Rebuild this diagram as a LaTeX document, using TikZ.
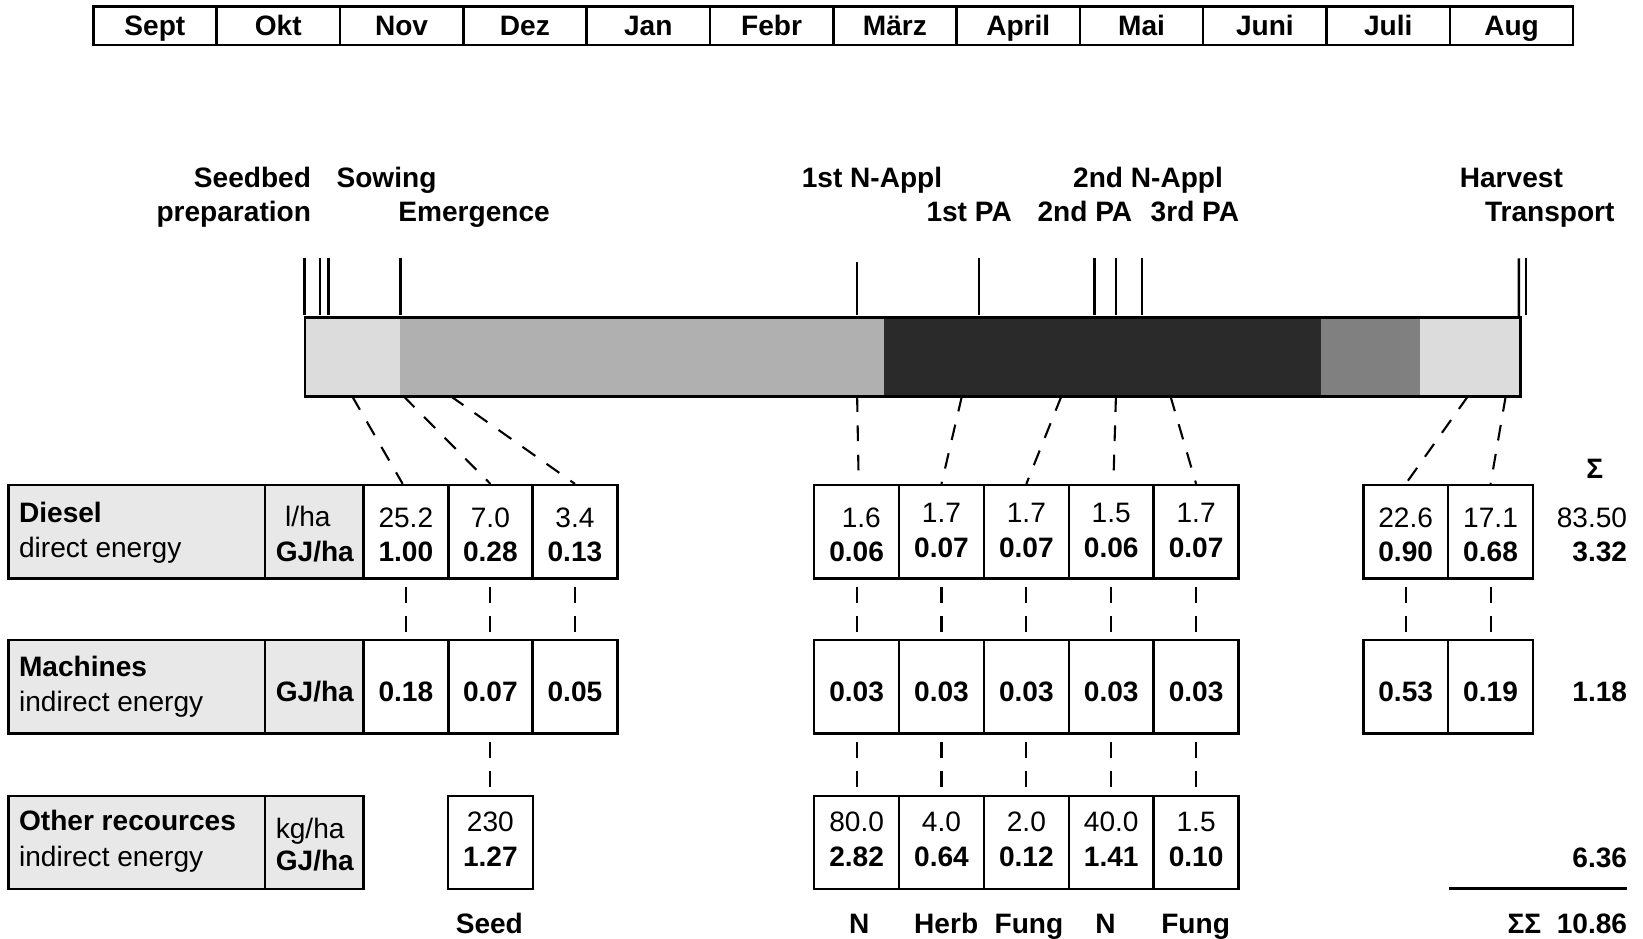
\documentclass[tikz,border=0pt]{standalone}
\usepackage{fontspec}
\setmainfont{Liberation Sans}
\definecolor{labgray}{HTML}{E8E8E8}
\definecolor{barlight}{HTML}{DCDCDC}
\definecolor{barmid}{HTML}{B0B0B0}
\definecolor{bardark}{HTML}{2A2A2A}
\definecolor{bargrey}{HTML}{808080}
\newcommand\valcell[6]{% name, x, y, top, bottom, variant shift
  \node[cellbox] (#1) at (#2,#3) {};
  \node[txt, anchor=base] at ([yshift=#6pt+4.5pt]#1.center) {#4};
  \node[btxt, anchor=base] at ([yshift=#6pt-28.5pt]#1.center) {#5};}
\newcommand\onecell[3]{% name, x, value
  \node[cellbox] (#1) at (#2,655.5) {};
  \node[btxt, anchor=base] at ([yshift=-13.5pt]#1.center) {#3};}
\begin{document}
\begin{tikzpicture}[x=1pt,y=-1pt,
  every node/.style={inner sep=0pt},
  txt/.style={font=\fontsize{26.8}{32}\selectfont},
  btxt/.style={font=\fontsize{26.8}{32}\selectfont\bfseries},
  monthbox/.style={draw, line width=2.4pt, minimum width=117.7pt, minimum height=37pt,
    font=\fontsize{26.8}{32}\selectfont\bfseries, text height=19pt, text depth=0pt},
  cellbox/.style={draw, line width=2.4pt, minimum width=81pt, minimum height=89pt},
  labbox/.style={draw, line width=2.4pt, fill=labgray, minimum height=89pt},
  tick/.style={line width=2.4pt},
  dashline/.style={line width=2pt, dash pattern=on 15pt off 13pt},
]
\useasboundingbox (0,0) rectangle (1568,896);
% months
\foreach \m [count=\i from 0] in {Sept,Okt,Nov,Dez,Jan,Febr,März,April,Mai,Juni,Juli,Aug}
  \node[monthbox] (m\i) at ({89+117.7*\i+58.85},24.5) {\m};
% event labels
\node[btxt, anchor=base east] (seedbed) at (297,179) {Seedbed};
\node[btxt, anchor=base east] (prep) at (297,211) {preparation};
\node[btxt, anchor=base west] (sowing) at (321,179) {Sowing};
\node[btxt, anchor=base west] (emerg) at (380,211) {Emergence};
\node[btxt, anchor=base west] (n1) at (765,179) {1st N-Appl};
\node[btxt, anchor=base west] (pa1) at (884,211) {1st PA};
\node[btxt, anchor=base west] (n2) at (1024,179) {2nd N-Appl};
\node[btxt, anchor=base west] (pa2) at (990,211) {2nd PA};
\node[btxt, anchor=base west] (pa3) at (1098,211) {3rd PA};
\node[btxt, anchor=base west] (harv) at (1393,179) {Harvest};
\node[btxt, anchor=base west] (transp) at (1417,211) {Transport};
% ticks
\foreach \x in {290.5,305.5,313.5,382,934.5,1044.5,1065,1090,1456.5}
  \draw[tick] (\x,246.5) -- (\x,301);
\draw[tick] (818,250) -- (818,301);
\draw[tick] (1449.5,246.5) -- (1449.5,301) -- (1448,312);
% bar
\fill[barlight] (290,302) rectangle (382,377);
\fill[barmid] (382,302) rectangle (844,377);
\fill[bardark] (844,302) rectangle (1261,377);
\fill[bargrey] (1261,302) rectangle (1355,377);
\fill[barlight] (1355,302) rectangle (1450,377);
\node[draw, line width=2.4pt, minimum width=1160pt, minimum height=75pt, anchor=north west] (bar) at (290,302) {};
% row 1 : Diesel
\node[labbox, minimum width=245pt] (dlab) at (130.5,507.5) {};
\node[btxt, anchor=base west] at (18,499) {Diesel};
\node[txt, anchor=base west] at (18,532) {direct energy};
\node[labbox, minimum width=94pt] (dunit) at (300,507.5) {};
\node[txt, anchor=base west] at (272,502) {l/ha};
\node[btxt, anchor=base west] at (263,536) {GJ/ha};
\valcell{d1}{387.3}{507.5}{25.2}{1.00}{0}
\valcell{d2}{468}{507.5}{7.0}{0.28}{0}
\valcell{d3}{548.7}{507.5}{3.4}{0.13}{0}
\valcell{d4}{817.5}{507.5}{\hspace*{9pt}1.6}{0.06}{0}
\valcell{d5}{898.5}{507.5}{1.7}{0.07}{4}
\valcell{d6}{979.5}{507.5}{1.7}{0.07}{4}
\valcell{d7}{1060.5}{507.5}{1.5}{0.06}{4}
\valcell{d8}{1141.5}{507.5}{1.7}{0.07}{4}
\valcell{d9}{1341.5}{507.5}{22.6}{0.90}{0}
\valcell{d10}{1422.5}{507.5}{17.1}{0.68}{0}
% row 2 : Machines
\node[labbox, minimum width=245pt] (mlab) at (130.5,655.5) {};
\node[btxt, anchor=base west] at (18,646) {Machines};
\node[txt, anchor=base west] at (18,679) {indirect energy};
\node[labbox, minimum width=94pt] (munit) at (300,655.5) {};
\node[btxt, anchor=base west] at (263,669) {GJ/ha};
\onecell{e1}{387.3}{0.18}
\onecell{e2}{468}{0.07}
\onecell{e3}{548.7}{0.05}
\onecell{e4}{817.5}{0.03}
\onecell{e5}{898.5}{0.03}
\onecell{e6}{979.5}{0.03}
\onecell{e7}{1060.5}{0.03}
\onecell{e8}{1141.5}{0.03}
\onecell{e9}{1341.5}{0.53}
\onecell{e10}{1422.5}{0.19}
% row 3 : Other recources
\node[labbox, minimum width=245pt] (olab) at (130.5,804) {};
\node[btxt, anchor=base west] at (18,793) {Other recources};
\node[txt, anchor=base west] at (18,827) {indirect energy};
\node[labbox, minimum width=94pt] (ounit) at (300,804) {};
\node[txt, anchor=base west] at (263,800) {kg/ha};
\node[btxt, anchor=base west] at (263,831) {GJ/ha};
\valcell{f2}{468}{804}{230}{1.27}{5.5}
\valcell{f4}{817.5}{804}{80.0}{2.82}{5.5}
\valcell{f5}{898.5}{804}{4.0}{0.64}{5.5}
\valcell{f6}{979.5}{804}{2.0}{0.12}{5.5}
\valcell{f7}{1060.5}{804}{40.0}{1.41}{5.5}
\valcell{f8}{1141.5}{804}{1.5}{0.10}{5.5}
% bottom labels
\node[btxt, anchor=base] (seed) at (467,891) {Seed};
\node[btxt, anchor=base] (ln1) at (820,891) {N};
\node[btxt, anchor=base] (lherb) at (903,891) {Herb};
\node[btxt, anchor=base] (lfung1) at (982,891) {Fung};
\node[btxt, anchor=base] (ln2) at (1055,891) {N};
\node[btxt, anchor=base] (lfung2) at (1141,891) {Fung};
% sums
\node[btxt, anchor=base] (sig) at (1522,457) {Σ};
\node[txt, anchor=base east] (s1) at (1553,503) {83.50};
\node[btxt, anchor=base east] (s2) at (1553,536) {3.32};
\node[btxt, anchor=base east] (s3) at (1553,669) {1.18};
\node[btxt, anchor=base east] (s4) at (1553,828) {6.36};
\draw[line width=2.4pt] (1383,848) -- (1553,848);
\node[btxt, anchor=base east] (stot) at (1553,891) {ΣΣ\ \ 10.86};
% connectors from bar
\coordinate (b1) at (336,378);
\coordinate (b2) at (385,378);
\coordinate (b3) at (430,378);
\coordinate (b4) at (818,378);
\coordinate (b5) at (918,378);
\coordinate (b6) at (1013,378);
\coordinate (b7) at (1065,378);
\coordinate (b8) at (1117,378);
\coordinate (b9) at (1401,378);
\coordinate (b10) at (1437,378);
\draw[dashline] (b1) -- ([xshift=-3pt]d1.north);
\draw[dashline] (b2) -- (d2.north);
\draw[dashline] (b3) -- (d3.north);
\draw[dashline] (b4) -- ([xshift=2pt]d4.north);
\draw[dashline] (b5) -- (d5.north);
\draw[dashline] (b6) -- (d6.north);
\draw[dashline] (b7) -- ([xshift=2pt]d7.north);
\draw[dashline] (b8) -- (d8.north);
\draw[dashline] (b9) -- (d9.north);
\draw[dashline] (b10) -- (d10.north);
% connectors between rows
\foreach \i in {1,...,10}
  \draw[dashline, shorten <=7pt, shorten >=7pt] (d\i.south) -- (e\i.north);
\foreach \i in {2,4,5,6,7,8}
  \draw[dashline, shorten <=7pt, shorten >=7pt] (e\i.south) -- (f\i.north);
\end{tikzpicture}
\end{document}
